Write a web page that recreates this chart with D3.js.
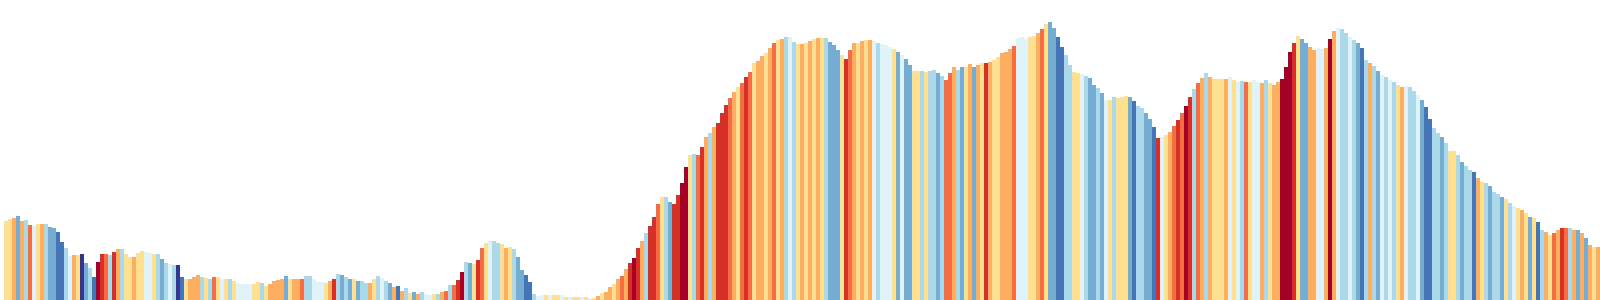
<!DOCTYPE html>
<meta charset="utf-8">
<title>elevation stripes</title>
<style>

html, body {
  margin: 0;
  padding: 0;
  background: #fff;
  overflow: hidden;
}

rect {
  shape-rendering: crispEdges;
}

</style>
<body>
<script src="https://cdn.jsdelivr.net/npm/d3@7"></script>
<script>

// elevation (m), one sample per stripe
var elevation = [
  790,807,820,845,793,800,750,740,757,760,760,733,720,683,583,520,440,450,450,460,370,320,230,380,460,
  460,450,483,510,510,460,433,430,473,493,483,470,460,460,410,370,360,350,350,233,210,210,230,250,230,
  220,213,230,230,213,213,213,190,167,160,160,160,160,180,167,140,160,187,200,207,240,213,213,207,207,
  240,240,213,180,180,173,187,213,260,250,227,207,207,193,193,173,167,213,237,220,187,173,127,140,95,
  117,73,83,60,83,60,50,60,57,83,93,150,150,200,283,383,373,360,400,517,573,593,587,573,557,
  517,533,507,433,300,250,183,60,40,50,50,50,50,50,50,33,33,27,27,33,27,20,20,40,67,
  80,130,160,210,245,310,375,425,517,592,675,742,833,960,1033,1033,983,960,1050,1167,1333,1450,1460,1450,1533,
  1633,1667,1733,1767,1867,1950,2017,2083,2127,2173,2233,2283,2373,2393,2440,2473,2517,2567,2600,2607,2633,2627,2583,2560,2560,
  2567,2587,2613,2617,2620,2620,2583,2550,2500,2450,2407,2500,2567,2573,2593,2600,2600,2593,2573,2557,2547,2533,2507,2483,2450,
  2407,2350,2293,2287,2287,2283,2293,2300,2267,2240,2200,2273,2333,2300,2327,2333,2360,2333,2350,2367,2373,2383,2400,2427,2470,
  2483,2507,2540,2617,2627,2613,2627,2640,2667,2707,2760,2780,2717,2633,2533,2450,2350,2283,2267,2260,2240,2217,2150,2117,2067,
  2000,2000,2027,2017,2033,2040,2033,1993,1940,1917,1873,1807,1733,1617,1633,1650,1683,1740,1800,1867,1940,2033,2107,2167,2217,
  2267,2233,2207,2207,2213,2213,2233,2200,2183,2187,2183,2183,2200,2183,2167,2200,2167,2147,2183,2207,2333,2483,2567,2640,2607,
  2573,2527,2500,2517,2507,2517,2607,2693,2723,2707,2673,2633,2600,2573,2517,2400,2367,2340,2293,2250,2227,2200,2183,2150,2127,
  2140,2127,2093,2050,2000,1927,1807,1717,1667,1627,1567,1493,1493,1450,1383,1340,1300,1283,1217,1183,1173,1140,1083,1060,1033,
  1007,967,940,917,900,867,833,817,783,700,683,650,667,700,717,717,717,700,700,667,617,550,533,533
];

// grade (%) of each stripe
var grade = [
  0.5,0.5,2,-4,2,-2,4,-0.5,0.5,2,-2,-4,-4,-7,-7,-2,-0.5,2,0.5,-10,-4,-2,-7,10,6,
  4,-2,6,2,-2,0.5,0.5,2,0.5,0.5,-0.5,-0.5,0.5,-2,-4,-2,-0.5,-2,-10,-7,0.5,2,2,2,-2,
  0.5,-2,4,0.5,-0.5,0.5,-2,0.5,-0.5,-0.5,-0.5,-0.5,0.5,0.5,-2,0.5,2,2,2,2,-4,0.5,2,2,4,
  -2,-2,-0.5,-0.5,-0.5,0.5,2,6,-2,-4,-2,-4,0.5,-4,-2,-2,2,0.5,-2,-0.5,-2,-4,2,-7,2,
  -2,0.5,-4,2,-2,-0.5,-0.5,0.5,-2,2,4,-2,4,6,10,-2,-4,0.5,6,4,0.5,-0.5,-2,-2,0.5,
  2,0.5,-2,-4,-4,-7,-7,-2,-0.5,-0.5,0.5,-0.5,0.5,0.5,-0.5,0.5,-0.5,0.5,0.5,-0.5,0.5,-0.5,0.5,2,0.5,
  2,2,0.5,2,4,2,6,10,6,2,-2,6,6,4,0.5,-2,-4,6,6,10,10,0.5,-2,4,6,
  2,-2,2,6,6,6,4,2,0.5,4,6,4,0.5,2,2,0.5,2,4,0.5,2,-2,-0.5,-2,0.5,2,
  0.5,2,0.5,2,0.5,-2,-4,-4,-4,0.5,6,4,2,0.5,2,0.5,2,-0.5,-2,-0.5,-0.5,-0.5,0.5,-4,-0.5,
  -4,-4,0.5,0.5,-2,0.5,-2,-2,-4,-2,4,4,2,-2,-4,0.5,2,-4,2,0.5,6,2,0.5,0.5,2,
  2,2,4,-0.5,-0.5,-0.5,0.5,0.5,2,4,0.5,-4,-4,-7,-7,-2,-2,0.5,0.5,-0.5,-2,-4,-4,-2,-4,
  -0.5,0.5,-2,0.5,0.5,0.5,-4,-7,-2,-2,-4,-4,-7,6,-0.5,0.5,2,4,6,4,10,6,-2,4,2,
  -2,2,0.5,0.5,0.5,2,-0.5,0.5,-0.5,-2,4,0.5,-0.5,-0.5,2,-2,0.5,2,2,10,10,10,6,0.5,-4,
  -4,2,2,-0.5,-0.5,2,10,2,-0.5,-2,-2,-0.5,-2,-4,-7,-2,2,-2,-4,-0.5,-2,-0.5,-2,0.5,2,
  -0.5,-2,-2,-0.5,-4,-7,-7,-2,-2,-4,-2,0.5,0.5,-2,-4,-2,-2,-7,2,0.5,-2,-4,-2,-2,-4,
  0.5,-2,-0.5,0.5,2,0.5,-4,0.5,-7,-2,2,0.5,4,2,6,4,-2,2,-4,2,-4,2,0.5,2
];

// grade class breaks (%)
var breaks = [-8, -5, -3, -1, 0, 1, 3, 5, 8];

var width = 1600,
    height = 300,
    left = 4;

var x = d3.scaleBand()
    .domain(d3.range(elevation.length))
    .range([left, width])
    .padding(0);

var y = d3.scaleLinear()
    .domain([0, 3000])
    .range([height, 0]);

var color = d3.scaleThreshold()
    .domain(breaks)
    .range(d3.schemeRdYlBu[10].slice().reverse());

var svg = d3.select("body").append("svg")
    .attr("width", width)
    .attr("height", height)
    .style("display", "block");

svg.selectAll("rect")
    .data(elevation)
  .enter().append("rect")
    .attr("x", function(d, i) { return x(i); })
    .attr("width", x.bandwidth())
    .attr("y", function(d) { return y(d); })
    .attr("height", function(d) { return height - y(d); })
    .attr("fill", function(d, i) { return color(grade[i]); });

</script>
</body>
